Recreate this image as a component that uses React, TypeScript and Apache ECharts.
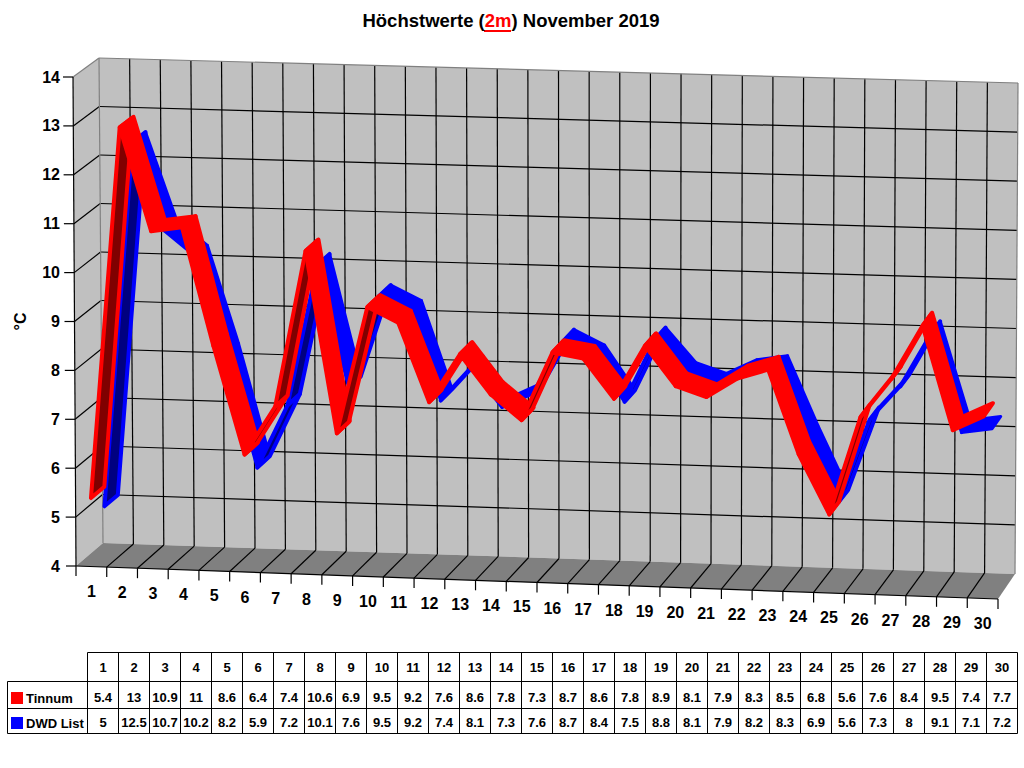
import React, { useEffect, useRef } from "react";
import * as echarts from "echarts";

const days = Array.from({ length: 30 }, (_, i) => i + 1);
const tinnum = [5.4, 13, 10.9, 11, 8.6, 6.4, 7.4, 10.6, 6.9, 9.5, 9.2, 7.6, 8.6, 7.8, 7.3, 8.7, 8.6, 7.8, 8.9, 8.1, 7.9, 8.3, 8.5, 6.8, 5.6, 7.6, 8.4, 9.5, 7.4, 7.7];
const dwdList = [5, 12.5, 10.7, 10.2, 8.2, 5.9, 7.2, 10.1, 7.6, 9.5, 9.2, 7.4, 8.1, 7.3, 7.6, 8.7, 8.4, 7.5, 8.8, 8.1, 7.9, 8.2, 8.3, 6.9, 5.6, 7.3, 8, 9.1, 7.1, 7.2];
const yTicks = [4, 5, 6, 7, 8, 9, 10, 11, 12, 13, 14];
const xEdges = Array.from({ length: 31 }, (_, i) => i);

const FONT = '"Liberation Sans", Arial, sans-serif';
const L = 76, T = 77, W = 922, H = 489;
const F00 = [76, 566], F10 = [998, 599], F01 = [73, 77], F11 = [1001, 107];
const B00 = [103, 543], B10 = [1015, 574], B01 = [99, 58], B11 = [1018, 83];

function project(p: number[], d: number): number[] {
  const a = (p[0] - L) / W;
  const b = (T + H - p[1]) / H;
  const mix = (k: number) => {
    const f = (F00[k] * (1 - a) + F10[k] * a) * (1 - b) + (F01[k] * (1 - a) + F11[k] * a) * b;
    const g = (B00[k] * (1 - a) + B10[k] * a) * (1 - b) + (B01[k] * (1 - a) + B11[k] * a) * b;
    return f * (1 - d) + g * d;
  };
  return [mix(0), mix(1)];
}

const BLACK = { stroke: "#000", lineWidth: 1.2, fill: "none" };
const GREY = { stroke: "#808080", lineWidth: 1.2, fill: "none" };

function renderFrame(_p: any, api: any) {
  const at = (x: number, y: number, d: number) => project(api.coord([x, y]), d);
  const poly = (pts: number[][], fill: string) => ({ type: "polygon", shape: { points: pts }, style: { fill }, silent: true });
  const seg = (a: number[], b: number[], style: any) => ({
    type: "line",
    shape: { x1: a[0], y1: a[1], x2: b[0], y2: b[1] },
    style,
    silent: true,
  });
  const children: any[] = [
    poly([at(0, 4, 0), at(0, 14, 0), at(0, 14, 1), at(0, 4, 1)], "#c0c0c0"),
    poly([at(0, 4, 1), at(0, 14, 1), at(30, 14, 1), at(30, 4, 1)], "#c0c0c0"),
    poly([at(0, 4, 0), at(0, 4, 1), at(30, 4, 1), at(30, 4, 0)], "#808080"),
  ];
  yTicks.slice(1, -1).forEach((v) => children.push(seg(at(0, v, 1), at(30, v, 1), BLACK)));
  xEdges.slice(1, -1).forEach((x) => children.push(seg(at(x, 4, 1), at(x, 14, 1), BLACK)));
  xEdges.slice(1).forEach((x) => {
    if (x < 30) children.push(seg(at(x, 4, 0), at(x, 4, 1), BLACK));
  });
  yTicks.forEach((v) => {
    if (v > 4 && v < 14) children.push(seg(at(0, v, 0), at(0, v, 1), BLACK));
  });
  children.push(seg(at(0, 4, 1), at(0, 14, 1), GREY));
  children.push(seg(at(0, 14, 0), at(0, 14, 1), GREY));
  children.push(seg(at(0, 14, 1), at(30, 14, 1), GREY));
  children.push(seg(at(30, 4, 1), at(30, 14, 1), GREY));
  children.push(seg(at(0, 4, 0), at(0, 14, 0), BLACK));
  children.push(seg(at(0, 4, 0), at(30, 4, 0), BLACK));
  yTicks.forEach((v) => {
    const p = at(0, v, 0);
    children.push(seg([p[0] - 10, p[1]], p, BLACK));
  });
  xEdges.forEach((x) => {
    const p = at(x, 4, 0);
    children.push(seg(p, [p[0], p[1] + 10], BLACK));
  });
  return { type: "group", children };
}

function ribbon(bright: string, dark: string, d0: number, d1: number, topD1: number, topStroke: number) {
  return (params: any, api: any) => {
    const i = api.value(0) - 0.5;
    const a = api.coord([i, api.value(1)]);
    const b = api.coord([i + 1, api.value(2)]);
    const quad = (dEnd: number) => [project(a, d0), project(b, d0), project(b, dEnd), project(a, dEnd)];
    const under = quad(d1);
    let area = 0;
    under.forEach((p, k) => {
      const q = under[(k + 1) % 4];
      area += p[0] * q[1] - q[0] * p[1];
    });
    const isUnder = area > 0;
    return {
      type: "polygon",
      z2: params.dataIndex,
      shape: { points: isUnder ? under : quad(topD1) },
      style: { fill: isUnder ? dark : bright, stroke: bright, lineWidth: isUnder ? 4 : topStroke, lineJoin: "round" },
      silent: true,
    };
  };
}

function segments(values: number[]) {
  return values.slice(0, -1).map((v, i) => [days[i], v, values[i + 1]]);
}

function renderXLabel(_p: any, api: any) {
  const x = api.value(0) - 0.5;
  const p = project(api.coord([x, 4]), 0);
  return {
    type: "text",
    silent: true,
    style: {
      x: p[0],
      y: p[1] + 25,
      text: String(api.value(0)),
      fill: "#000",
      font: `bold 16px ${FONT}`,
      align: "center",
      verticalAlign: "middle",
    },
  };
}

function tableGraphics() {
  const x0 = 87.5, cw = 31, rows = [652.5, 681.5, 708.5, 733.5], left = 7.5, right = x0 + cw * 30;
  const line = (x1: number, y1: number, x2: number, y2: number) => ({
    type: "line",
    shape: { x1, y1, x2, y2 },
    style: { stroke: "#000", lineWidth: 1 },
    silent: true,
  });
  const text = (t: string | number, x: number, y: number, align = "center") => ({
    type: "text",
    silent: true,
    style: { x, y, text: String(t), fill: "#000", font: `bold 13px ${FONT}`, align, verticalAlign: "middle" },
  });
  const els: any[] = [
    line(x0, rows[0], right, rows[0]),
    line(left, rows[1], right, rows[1]),
    line(left, rows[2], right, rows[2]),
    line(left, rows[3], right, rows[3]),
    line(left, rows[1], left, rows[3]),
    { type: "rect", shape: { x: 11, y: 692, width: 12, height: 12 }, style: { fill: "#ff0000" }, silent: true },
    { type: "rect", shape: { x: 11, y: 717, width: 12, height: 12 }, style: { fill: "#0000ff" }, silent: true },
    text("Tinnum", 26, 698, "left"),
    text("DWD List", 26, 723, "left"),
    { type: "line", shape: { x1: 484, y1: 31, x2: 511, y2: 31 }, style: { stroke: "#ff0000", lineWidth: 2 }, silent: true },
  ];
  for (let i = 0; i <= 30; i++) els.push(line(x0 + cw * i, rows[0], x0 + cw * i, rows[3]));
  days.forEach((d, i) => {
    const cx = x0 + cw * (i + 0.5);
    els.push(text(d, cx, 667));
    els.push(text(tinnum[i], cx, 697));
    els.push(text(dwdList[i], cx, 722));
  });
  return els;
}

export default function App() {
  const ref = useRef<HTMLDivElement>(null);
  useEffect(() => {
    const chart = echarts.init(ref.current!, null, { renderer: "svg" });
    chart.setOption({
      animation: false,
      backgroundColor: "#fff",
      title: {
        left: 506,
        top: 6,
        textAlign: "center",
        text: "Höchstwerte ({r|2m}) November 2019",
        textStyle: {
          fontFamily: FONT,
          fontWeight: "bold",
          fontSize: 18.5,
          color: "#000",
          rich: { r: { fontFamily: FONT, fontWeight: "bold", fontSize: 18.5, color: "#ff0000" } },
        },
      },
      grid: { left: L, top: T, width: W, height: H },
      xAxis: { type: "value", min: 0, max: 30, interval: 1, show: false },
      yAxis: {
        type: "value",
        min: 4,
        max: 14,
        interval: 1,
        name: "°C",
        nameLocation: "middle",
        nameGap: 48,
        nameRotate: 90,
        nameTextStyle: { fontFamily: FONT, fontWeight: "bold", fontSize: 16, color: "#000" },
        axisLine: { show: false },
        axisTick: { show: false },
        splitLine: { show: false },
        axisLabel: { margin: 16, fontFamily: FONT, fontWeight: "bold", fontSize: 16, color: "#000" },
      },
      graphic: tableGraphics(),
      series: [
        { type: "custom", name: "frame", data: [[0, 4]], renderItem: renderFrame, z: 1, silent: true },
        { type: "custom", name: "DWD List", data: segments(dwdList), renderItem: ribbon("#0000ff", "#000080", 0.5, 1, 1, 3), z: 2, silent: true },
        { type: "custom", name: "Tinnum", data: segments(tinnum), renderItem: ribbon("#ff0000", "#800000", 0, 0.5, 0.54, 4), z: 3, silent: true },
        { type: "custom", name: "days", data: days.map((d) => [d, 4]), renderItem: renderXLabel, z: 4, silent: true },
      ],
    });
    return () => chart.dispose();
  }, []);
  return <div ref={ref} style={{ position: "absolute", left: 0, top: 0, width: 1024, height: 768 }} />;
}
